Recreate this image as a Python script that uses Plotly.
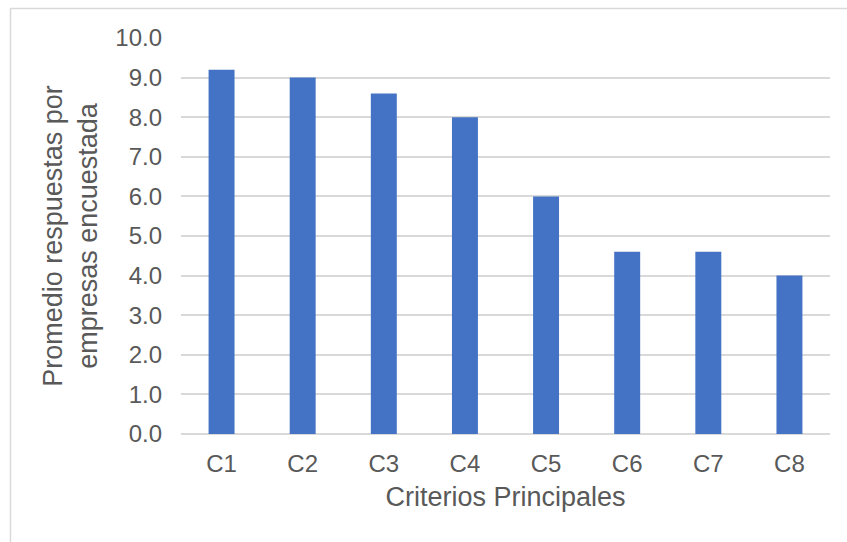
import plotly.graph_objects as go

# Criteria and the mean score reported per surveyed company
criterios = ["C1", "C2", "C3", "C4", "C5", "C6", "C7", "C8"]
promedio = [9.2, 9.0, 8.6, 8.0, 6.0, 4.6, 4.6, 4.0]

# Y-axis ticks
y_ticks = [0, 1, 2, 3, 4, 5, 6, 7, 8, 9, 10]

W, H = 847, 542
L, R, T, B = 181, 17, 38, 108

TXT = "#595959"
GRID = "#D9D9D9"
FONT = "Liberation Sans, Arial, sans-serif"

fig = go.Figure(
    go.Bar(
        x=criterios,
        y=promedio,
        marker=dict(color="#4472C4", line=dict(width=0)),
        hoverinfo="x+y",
    )
)

# Outer chart frame (light grey border)
pw, ph = W - L - R, H - T - B
fig.add_shape(
    type="rect",
    xref="paper", yref="paper",
    x0=(10.5 - L) / pw, x1=(W + 2 - L) / pw,
    y0=(H - B - (H + 2)) / ph, y1=(H - B - 8.5) / ph,
    line=dict(color=GRID, width=1.5),
    fillcolor="rgba(0,0,0,0)",
    layer="below",
)

fig.update_layout(
    width=W, height=H,
    margin=dict(l=L, r=R, t=T, b=B),
    paper_bgcolor="white",
    plot_bgcolor="white",
    bargap=0.68,
    showlegend=False,
    font=dict(family=FONT, color=TXT),
    xaxis=dict(
        title=dict(text="Criterios Principales", font=dict(size=27, color=TXT), standoff=11),
        tickfont=dict(size=24, color=TXT),
        showgrid=False,
        showline=False,
        ticks="",
        ticklabelstandoff=13,
    ),
    yaxis=dict(
        title=dict(text="Promedio respuestas por<br>empresas encuestada",
                   font=dict(size=27, color=TXT), standoff=9),
        range=[0, 10],
        tickvals=y_ticks,
        tickformat=".1f",
        tickfont=dict(size=24, color=TXT),
        showgrid=True,
        gridcolor=GRID,
        gridwidth=1.5,
        zeroline=True,
        zerolinecolor=GRID,
        zerolinewidth=1.5,
        showline=False,
        ticks="",
        ticklabelstandoff=18,
    ),
)

fig.write_html("out.html")
